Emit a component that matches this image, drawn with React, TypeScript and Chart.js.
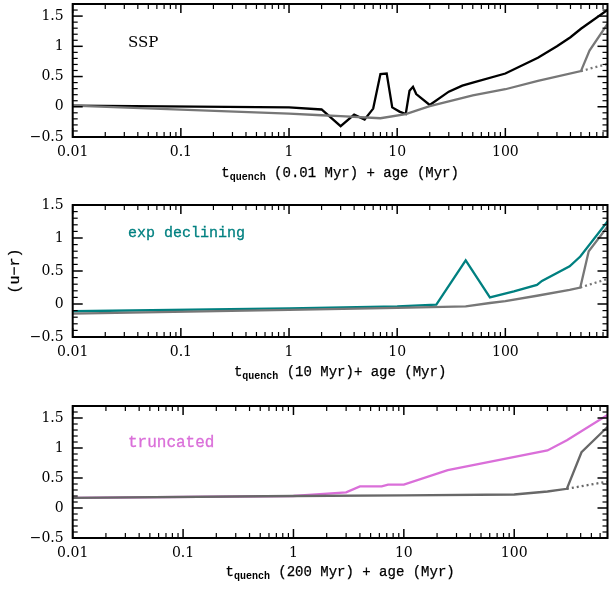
import React, { useEffect, useRef } from "react";
import { Chart, registerables } from "chart.js";

Chart.register(...registerables);

// ---------- axis ticks ----------
const X_TICKS = [0.01, 0.1, 1, 10, 100];
const X_TICK_LABELS = ["0.01", "0.1", "1", "10", "100"];
const Y_TICKS = [-0.5, 0, 0.5, 1, 1.5];
const Y_TICK_LABELS = ["\u22120.5", "0", "0.5", "1", "1.5"];

// ---------- panel 1 : SSP ----------
const SSP_AGE = [0.01, 1, 2, 3, 4, 5, 6, 7, 8, 9, 10.5, 12, 13, 14, 15, 20, 30, 40, 50, 100, 200, 300, 400, 500, 880];
const SSP_UR = [0.02, -0.01, -0.045, -0.32, -0.13, -0.21, -0.03, 0.54, 0.55, -0.01, -0.08, -0.12, 0.265, 0.33, 0.21, 0.03, 0.25, 0.35, 0.4, 0.55, 0.81, 1.0, 1.15, 1.29, 1.6];
const SSP_REF_AGE = [0.01, 1, 2, 3, 7, 12, 20, 30, 50, 100, 200, 500, 600, 880];
const SSP_REF_UR = [0.02, -0.115, -0.14, -0.155, -0.19, -0.12, 0.01, 0.09, 0.19, 0.29, 0.43, 0.59, 0.93, 1.37];
const SSP_DOT_AGE = [500, 880];
const SSP_DOT_UR = [0.59, 0.71];

// ---------- panel 2 : exp declining ----------
const EXP_AGE = [0.01, 1, 10, 23, 43, 72, 120, 196, 218, 393, 493, 880];
const EXP_UR = [-0.11, -0.065, -0.035, -0.01, 0.66, 0.1, 0.19, 0.29, 0.35, 0.57, 0.72, 1.25];
const EXP_REF_AGE = [0.01, 1, 10, 43, 72, 100, 196, 393, 493, 590, 880];
const EXP_REF_UR = [-0.145, -0.09, -0.06, -0.035, 0.015, 0.045, 0.125, 0.215, 0.25, 0.8, 1.17];
const EXP_DOT_AGE = [493, 880];
const EXP_DOT_UR = [0.25, 0.38];

// ---------- panel 3 : truncated ----------
const TRU_AGE = [0.01, 1, 3, 4, 6.3, 7.2, 10, 25, 200, 300, 700];
const TRU_UR = [0.17, 0.2, 0.26, 0.36, 0.36, 0.39, 0.39, 0.63, 0.96, 1.13, 1.55];
const TRU_REF_AGE = [0.01, 1, 10, 100, 200, 300, 407, 700];
const TRU_REF_UR = [0.17, 0.2, 0.21, 0.225, 0.275, 0.32, 0.93, 1.35];
const TRU_DOT_AGE = [300, 700];
const TRU_DOT_UR = [0.32, 0.44];

const pts = (xs: number[], ys: number[]) => xs.map((x, i) => ({ x, y: ys[i] }));

const MONO = "'Liberation Mono', 'DejaVu Sans Mono', monospace";
const SERIF = "'DejaVu Serif', serif";

type Series = { data: { x: number; y: number }[]; color: string; dash?: number[]; width?: number };

type PanelProps = {
  top: number;
  height: number;
  padTop: number;
  xAxisH: number;
  xMax: number;
  yMax: number;
  series: Series[];
  label: string;
  labelColor: string;
  labelFont: string;
  labelY: number;
  labelStroke: number;
  titleMid: string;
  titleDy: number;
  yTitle?: string;
};

function Panel(p: PanelProps) {
  const ref = useRef<HTMLCanvasElement | null>(null);
  useEffect(() => {
    if (!ref.current) return;
    const frame = {
      id: "frame" + p.top,
      afterDatasetsDraw(chart: any) {
        const { ctx, chartArea: a, scales } = chart;
        const xs = scales.x;
        const ys = scales.y;
        ctx.save();
        ctx.strokeStyle = "#000";
        const seg = (x1: number, y1: number, x2: number, y2: number, w: number) => {
          ctx.lineWidth = w;
          ctx.beginPath();
          ctx.moveTo(x1, y1);
          ctx.lineTo(x2, y2);
          ctx.stroke();
        };
        for (let n = -2; n <= 3; n++) {
          for (let k = 1; k <= 9; k++) {
            const v = k * Math.pow(10, n);
            if (v < xs.min * 0.999 || v > xs.max * 1.001) continue;
            const px = xs.getPixelForValue(v);
            const len = k === 1 ? 9 : 5;
            const w = k === 1 ? 1.5 : 1.2;
            seg(px, a.bottom, px, a.bottom - len, w);
            seg(px, a.top, px, a.top + len, w);
          }
        }
        const i0 = Math.round(ys.min * 10);
        const i1 = Math.round(ys.max * 10);
        for (let i = i0; i <= i1; i++) {
          const py = ys.getPixelForValue(i / 10);
          const major = i % 5 === 0;
          const len = major ? 10 : 5;
          const w = major ? 1.5 : 1.2;
          seg(a.left, py, a.left + len, py, w);
          seg(a.right, py, a.right - len, py, w);
        }
        ctx.lineWidth = 2;
        ctx.strokeRect(a.left, a.top, a.right - a.left, a.bottom - a.top);

        const text = (s: string, x: number, y: number, sw: number) => {
          ctx.fillText(s, x, y);
          if (sw > 0) {
            ctx.lineWidth = sw;
            ctx.strokeText(s, x, y);
          }
        };

        // panel label
        ctx.fillStyle = p.labelColor;
        ctx.strokeStyle = p.labelColor;
        ctx.font = p.labelFont;
        ctx.textAlign = "left";
        ctx.textBaseline = "middle";
        text(p.label, 128, p.labelY, p.labelStroke);

        // x title with subscript
        ctx.fillStyle = "#000";
        ctx.strokeStyle = "#000";
        const cx = (a.left + a.right) / 2;
        const ty = a.bottom + p.titleDy;
        const mainFont = "14px " + MONO;
        const subFont = "bold 10px " + MONO;
        ctx.font = mainFont;
        const wT = ctx.measureText("t").width;
        const wRest = ctx.measureText(p.titleMid).width;
        ctx.font = subFont;
        const wSub = ctx.measureText("quench").width;
        let x0 = cx - (wT + wSub + wRest) / 2;
        ctx.font = mainFont;
        text("t", x0, ty, 0.25);
        x0 += wT;
        ctx.font = subFont;
        text("quench", x0, ty + 4, 0);
        x0 += wSub;
        ctx.font = mainFont;
        text(p.titleMid, x0, ty, 0.25);

        if (p.yTitle) {
          ctx.save();
          ctx.translate(15, (a.top + a.bottom) / 2);
          ctx.rotate(-Math.PI / 2);
          ctx.textAlign = "center";
          ctx.font = "15px " + MONO;
          text(p.yTitle, 0, 0, 0.25);
          ctx.restore();
        }
        ctx.restore();
      },
    };

    const chart = new Chart(ref.current, {
      type: "line",
      data: {
        datasets: p.series.map((s) => ({
          data: s.data,
          borderColor: s.color,
          backgroundColor: s.color,
          borderWidth: s.width ?? 2.3,
          borderDash: s.dash ?? [],
          pointRadius: 0,
          fill: false,
          tension: 0,
        })),
      },
      options: {
        animation: false,
        responsive: false,
        devicePixelRatio: 1,
        layout: { padding: { top: p.padTop, right: 1.5, left: 0, bottom: 0 } },
        plugins: { legend: { display: false }, tooltip: { enabled: false } },
        scales: {
          x: {
            type: "logarithmic",
            min: 0.01,
            max: p.xMax,
            grid: { display: false, drawTicks: false },
            border: { display: false },
            afterBuildTicks: (s: any) => {
              s.ticks = X_TICKS.map((v) => ({ value: v }));
            },
            afterFit: (s: any) => {
              s.height = p.xAxisH;
              s.paddingLeft = 0;
              s.paddingRight = 0;
            },
            ticks: {
              autoSkip: false,
              maxRotation: 0,
              minRotation: 0,
              padding: 6.6,
              color: "#000",
              font: { family: SERIF, size: 14 },
              callback: (v: any) => {
                const i = X_TICKS.indexOf(Number(v));
                return i >= 0 ? X_TICK_LABELS[i] : "";
              },
            },
          },
          y: {
            type: "linear",
            min: -0.5,
            max: p.yMax,
            grid: { display: false, drawTicks: false },
            border: { display: false },
            afterBuildTicks: (s: any) => {
              s.ticks = Y_TICKS.map((v) => ({ value: v }));
            },
            afterFit: (s: any) => {
              s.width = 72.7;
              s.paddingTop = 0;
              s.paddingBottom = 0;
            },
            ticks: {
              padding: 9,
              color: "#000",
              font: { family: SERIF, size: 14 },
              callback: (v: any) => {
                const i = Y_TICKS.indexOf(Number(v));
                return i >= 0 ? Y_TICK_LABELS[i] : "";
              },
            },
          },
        },
      } as any,
      plugins: [frame as any],
    });
    return () => chart.destroy();
  }, []);
  return (
    <canvas
      ref={ref}
      width={609}
      height={p.height}
      style={{ position: "absolute", left: 0, top: p.top, width: 609, height: p.height, display: "block" }}
    />
  );
}

export default function App() {
  const grayA = "#777777";
  const grayC = "#686868";
  return (
    <div style={{ position: "absolute", left: 0, top: 0, width: 609, height: 590, background: "#fff" }}>
      <Panel
        top={0}
        height={190}
        padTop={4}
        xAxisH={53}
        xMax={880}
        yMax={1.7}
        series={[
          { data: pts(SSP_DOT_AGE, SSP_DOT_UR), color: grayA, dash: [2, 3] },
          { data: pts(SSP_REF_AGE, SSP_REF_UR), color: grayA },
          { data: pts(SSP_AGE, SSP_UR), color: "#000" },
        ]}
        label="SSP"
        labelColor="#000"
        labelFont={"15px " + SERIF}
        labelY={43}
        labelStroke={0}
        titleMid=" (0.01 Myr) + age (Myr)"
        titleDy={36}
      />
      <Panel
        top={190}
        height={200}
        padTop={15}
        xAxisH={53}
        xMax={880}
        yMax={1.5}
        series={[
          { data: pts(EXP_DOT_AGE, EXP_DOT_UR), color: grayA, dash: [2, 3] },
          { data: pts(EXP_REF_AGE, EXP_REF_UR), color: grayA },
          { data: pts(EXP_AGE, EXP_UR), color: "#008080" },
        ]}
        label="exp declining"
        labelColor="#008080"
        labelFont={"15px " + MONO}
        labelY={43}
        labelStroke={0.3}
        titleMid=" (10 Myr)+ age (Myr)"
        titleDy={35}
        yTitle={"(u\u2212r)"}
      />
      <Panel
        top={390}
        height={200}
        padTop={16}
        xAxisH={52}
        xMax={700}
        yMax={1.7}
        series={[
          { data: pts(TRU_DOT_AGE, TRU_DOT_UR), color: grayC, dash: [2, 3] },
          { data: pts(TRU_REF_AGE, TRU_REF_UR), color: grayC },
          { data: pts(TRU_AGE, TRU_UR), color: "#da6fd9" },
        ]}
        label="truncated"
        labelColor="#da6fd9"
        labelFont={"16px " + MONO}
        labelY={53}
        labelStroke={0.3}
        titleMid=" (200 Myr) + age (Myr)"
        titleDy={34}
      />
    </div>
  );
}
